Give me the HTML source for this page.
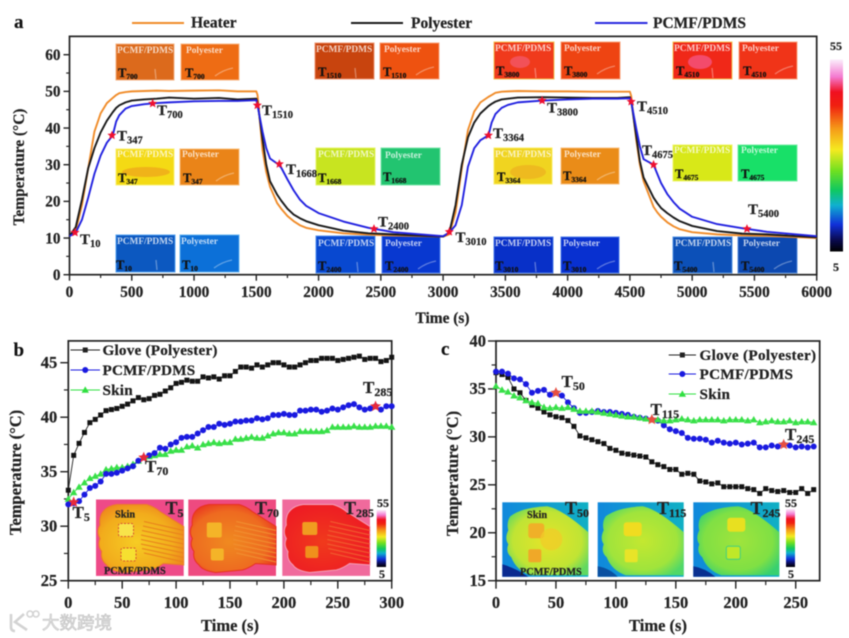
<!DOCTYPE html>
<html lang="en">
<head>
<meta charset="utf-8">
<title>Thermal response of PCMF/PDMS and polyester</title>
<style>
html,body{margin:0;padding:0;background:#fff;width:849px;height:638px;overflow:hidden}
svg{display:block;filter:blur(0.55px)}
text{font-family:"Liberation Serif","Noto Serif CJK SC",serif;font-weight:bold;fill:#222;stroke:#222;stroke-width:.22px}
.tick{font-size:15.3px}
.tickb{font-size:16.5px}
.title{font-size:15.4px}
.titleb{font-size:16.5px}
.leg{font-size:15.5px}
.legb{font-size:15.2px;letter-spacing:.2px}
.panel{font-size:19px;fill:#111}
.ann{font-size:15px;fill:#222}
.annb{font-size:17px;fill:#222}
.tl{font-size:9.4px;fill:#fff;fill-opacity:.75;stroke:none}
.ts{font-size:12.5px;fill:#111;stroke:#111}
.insT{font-size:18px;fill:#222}
.insL{font-size:10.3px;fill:#222}
.cb{font-size:12px;fill:#222}
</style>
</head>
<body>
<svg xmlns="http://www.w3.org/2000/svg" width="849" height="638" viewBox="0 0 849 638">
<defs>
<linearGradient id="cbar" x1="0" y1="0" x2="0" y2="1">
<stop offset="0" stop-color="#fbeefb"/><stop offset=".09" stop-color="#f47ad0"/><stop offset=".17" stop-color="#f01020"/><stop offset=".24" stop-color="#f02010"/><stop offset=".36" stop-color="#f59a18"/><stop offset=".47" stop-color="#f5ea20"/><stop offset=".58" stop-color="#70e020"/><stop offset=".68" stop-color="#10c860"/><stop offset=".76" stop-color="#10b0d0"/><stop offset=".86" stop-color="#1030d8"/><stop offset=".94" stop-color="#0a0a50"/><stop offset="1" stop-color="#000"/>
</linearGradient>
<radialGradient id="h5" cx=".45" cy=".55" r=".6"><stop offset="0" stop-color="#f6cc24"/><stop offset=".7" stop-color="#f2ac1c"/><stop offset="1" stop-color="#ee8a1c"/></radialGradient>
<radialGradient id="h70" cx=".45" cy=".55" r=".6"><stop offset="0" stop-color="#f08a20"/><stop offset=".75" stop-color="#ee6a20"/><stop offset="1" stop-color="#ea3c20"/></radialGradient>
<radialGradient id="h285" cx=".45" cy=".55" r=".6"><stop offset="0" stop-color="#f03a1c"/><stop offset="1" stop-color="#ee1a24"/></radialGradient>
<radialGradient id="c50" cx=".5" cy=".5" r=".6"><stop offset="0" stop-color="#e6e428"/><stop offset=".7" stop-color="#c0e434"/><stop offset="1" stop-color="#60d860"/></radialGradient>
<radialGradient id="c115" cx=".5" cy=".5" r=".6"><stop offset="0" stop-color="#c4e830"/><stop offset=".7" stop-color="#a0e43c"/><stop offset="1" stop-color="#50d868"/></radialGradient>
<radialGradient id="c245" cx=".5" cy=".5" r=".6"><stop offset="0" stop-color="#a0e43c"/><stop offset=".7" stop-color="#80e044"/><stop offset="1" stop-color="#38d070"/></radialGradient>
<linearGradient id="cbg" x1="0" y1="0" x2="1" y2="0"><stop offset="0" stop-color="#1088dc"/><stop offset="1" stop-color="#10b0c4"/></linearGradient>
<path id="hand" d="M7 12 Q12 6 20.7 5 L50.7 5 Q58 7 64 12 L87.7 27 V65.5 L67.3 64 Q60 69 54 70.5 L27.3 73 Q14 71 10.7 65.5 Q4 60 5.7 52 Q1 46 4 39 Q0 32 4 25.5 Q3 17 7 12Z"/>
<path id="handc" d="M8 14 Q20 5 45 4 Q60 7 86 30 V73 H28 Q14 68 9 55 Q3 50 6 42 Q2 36 6 28 Q4 20 8 14Z"/>
<path id="fingers" d="M48 22 L87.7 31 M47 26.500 L87.700 35.500 M46 31 L87.700 40 M45 35.500 L87.700 44.500 M45 40 L87.700 49 M45 44.500 L87.700 53.500 M46 49 L87.700 58 M48 53.500 L87.700 62.500" fill="none" stroke-width="1.1"/>
<path id="streak" d="M0 10 Q8 4 18 2" fill="none" stroke="#fff" stroke-opacity=".35" stroke-width="1.4"/>
<path id="tickmark" d="M0 0 L1 10" fill="none" stroke="#fff" stroke-opacity=".35" stroke-width="1.3"/>
</defs>

<rect x="0" y="0" width="849" height="638" fill="#fff"/>

<!-- Panel a thermal image thumbnails -->
<g>
<g><rect x="116" y="44" width="58" height="36" fill="#dc6a1c" stroke="#f4b080"/><use href="#tickmark" x="155" y="69"/><text class="tl" x="117" y="53">PCMF/PDMS</text><text class="ts" x="118" y="77">T<tspan dy="2" font-size="7.5">700</tspan></text></g>
<g><rect x="181" y="44" width="58" height="36" fill="#ee6c14" stroke="#f8b480"/><use href="#streak" x="215" y="66"/><text class="tl" x="186" y="53">Polyester</text><text class="ts" x="185" y="77">T<tspan dy="2" font-size="7.5">700</tspan></text></g>
<g><rect x="315" y="43" width="59" height="36" fill="#c8440e" stroke="#ec9470"/><use href="#tickmark" x="355" y="68"/><text class="tl" x="316" y="52">PCMF/PDMS</text><text class="ts" x="318" y="76">T<tspan dy="2" font-size="7.5">1510</tspan></text></g>
<g><rect x="380" y="43" width="59" height="36" fill="#ee5210" stroke="#f8a078"/><use href="#streak" x="416" y="65"/><text class="tl" x="384" y="52">Polyester</text><text class="ts" x="383" y="76">T<tspan dy="2" font-size="7.5">1510</tspan></text></g>
<g><rect x="494" y="42" width="60" height="37" fill="#f03a1c" stroke="#f4c050"/><ellipse cx="520" cy="62" rx="10" ry="6" fill="#f46080" opacity=".6"/><use href="#tickmark" x="535" y="68"/><text class="tl" x="495" y="51">PCMF/PDMS</text><text class="ts" x="496" y="75">T<tspan dy="2" font-size="7.500">3800</tspan></text></g>
<g><rect x="561" y="42" width="59" height="37" fill="#ee4412" stroke="#f8a078"/><use href="#streak" x="597" y="64"/><text class="tl" x="564" y="51">Polyester</text><text class="ts" x="564" y="75">T<tspan dy="2" font-size="7.5">3800</tspan></text></g>
<g><rect x="673" y="42" width="59" height="37" fill="#f02818" stroke="#f4c050"/><ellipse cx="700" cy="62" rx="12" ry="7" fill="#f45a90" opacity=".7"/><use href="#tickmark" x="712" y="68"/><text class="tl" x="674" y="51">PCMF/PDMS</text><text class="ts" x="676" y="75">T<tspan dy="2" font-size="7.5">4510</tspan></text></g>
<g><rect x="739" y="42" width="58" height="37" fill="#f03418" stroke="#f8a078"/><use href="#streak" x="775" y="64"/><text class="tl" x="742" y="51">Polyester</text><text class="ts" x="743" y="75">T<tspan dy="2" font-size="7.5">4510</tspan></text></g>

<g><rect x="116" y="149" width="58" height="36" fill="#f4da14" stroke="#f8f070"/><ellipse cx="146" cy="172" rx="24" ry="5" fill="#ec9a1c" opacity=".6"/><text class="tl" x="117" y="157">PCMF/PDMS</text><text class="ts" x="118" y="182">T<tspan dy="2" font-size="7.5">347</tspan></text></g>
<g><rect x="180" y="149" width="59" height="36" fill="#ea8418" stroke="#f8bc78"/><use href="#streak" x="216" y="171"/><text class="tl" x="182" y="157">Polyester</text><text class="ts" x="183" y="182">T<tspan dy="2" font-size="7.5">347</tspan></text></g>
<g><rect x="316" y="148" width="59" height="37" fill="#c8e420" stroke="#e4f468"/><text class="tl" x="318" y="157">PCMF/PDMS</text><text class="ts" x="318" y="182">T<tspan dy="2" font-size="7.5">1668</tspan></text></g>
<g><rect x="381" y="148" width="59" height="37" fill="#22c470" stroke="#78e4a8"/><text class="tl" x="385" y="158">Polyester</text><text class="ts" x="383" y="181">T<tspan dy="2" font-size="7.5">1668</tspan></text></g>
<g><rect x="494" y="148" width="58" height="36" fill="#f0d420" stroke="#f8ec60"/><ellipse cx="528" cy="172" rx="18" ry="7" fill="#eca820" opacity=".6"/><text class="tl" x="495" y="157">PCMF/PDMS</text><text class="ts" x="497" y="181">T<tspan dy="2" font-size="7.5">3364</tspan></text></g>
<g><rect x="561" y="148" width="58" height="36" fill="#ea8c18" stroke="#f8bc78"/><use href="#streak" x="597" y="170"/><text class="tl" x="564" y="157">Polyester</text><text class="ts" x="563" y="180">T<tspan dy="2" font-size="7.5">3364</tspan></text></g>
<g><rect x="673" y="145" width="59" height="36" fill="#d8e818" stroke="#ecf468"/><text class="tl" x="674" y="153">PCMF/PDMS</text><text class="ts" x="675" y="178">T<tspan dy="2" font-size="7.5">4675</tspan></text></g>
<g><rect x="738" y="145" width="59" height="36" fill="#18e068" stroke="#70ecA0"/><text class="tl" x="741" y="153">Polyester</text><text class="ts" x="741" y="178">T<tspan dy="2" font-size="7.5">4675</tspan></text></g>

<g><rect x="116" y="235" width="59" height="37" fill="#0c58c0" stroke="#50a0f0"/><use href="#tickmark" x="156" y="260"/><text class="tl" x="117" y="244">PCMF/PDMS</text><text class="ts" x="116" y="269">T<tspan dy="2" font-size="7.5">10</tspan></text></g>
<g><rect x="180" y="235" width="59" height="37" fill="#0c70d8" stroke="#60b0f0"/><use href="#streak" x="214" y="258"/><text class="tl" x="181" y="244">Polyester</text><text class="ts" x="182" y="269">T<tspan dy="2" font-size="7.5">10</tspan></text></g>
<g><rect x="316" y="236" width="59" height="37" fill="#0848d0" stroke="#5090f0"/><use href="#tickmark" x="357" y="262"/><text class="tl" x="318" y="246">PCMF/PDMS</text><text class="ts" x="318" y="270">T<tspan dy="2" font-size="7.5">2400</tspan></text></g>
<g><rect x="382" y="236" width="58" height="37" fill="#0838d0" stroke="#5080f0"/><use href="#streak" x="418" y="259"/><text class="tl" x="385" y="246">Polyester</text><text class="ts" x="385" y="270">T<tspan dy="2" font-size="7.5">2400</tspan></text></g>
<g><rect x="494" y="237" width="59" height="36" fill="#0830c8" stroke="#4878e8"/><use href="#tickmark" x="535" y="262"/><text class="tl" x="495" y="246">PCMF/PDMS</text><text class="ts" x="495" y="270">T<tspan dy="2" font-size="7.5">3010</tspan></text></g>
<g><rect x="561" y="237" width="58" height="36" fill="#0830d0" stroke="#4878e8"/><use href="#streak" x="597" y="259"/><text class="tl" x="563" y="246">Polyester</text><text class="ts" x="563" y="270">T<tspan dy="2" font-size="7.5">3010</tspan></text></g>
<g><rect x="673" y="237" width="59" height="36" fill="#0c50b8" stroke="#5090e0"/><use href="#tickmark" x="713" y="262"/><text class="tl" x="675" y="246">PCMF/PDMS</text><text class="ts" x="674" y="270">T<tspan dy="2" font-size="7.5">5400</tspan></text></g>
<g><rect x="738" y="237" width="59" height="36" fill="#0c48b0" stroke="#5088d8"/><use href="#streak" x="774" y="259"/><text class="tl" x="743" y="246">Polyester</text><text class="ts" x="741" y="270">T<tspan dy="2" font-size="7.5">5400</tspan></text></g>
</g>

<!-- Panel b insets -->
<g transform="translate(96,499.5)"><rect width="87.7" height="76.4" fill="#ee4a88"/><use href="#hand" fill="url(#h5)" stroke="#ec7a2a"/><use href="#fingers" stroke="#e8801c"/><rect x="22.5" y="24" width="15" height="13" rx="2" fill="#f8e44a" stroke="#d85030" stroke-dasharray="2 1.500"/><rect x="25" y="48.500" width="15" height="13" rx="2" fill="#f6e030" stroke="#d85030" stroke-dasharray="2 1.5"/></g>
<g transform="translate(188.3,499.5)"><rect width="87.7" height="76.4" fill="#ee4a80"/><use href="#hand" fill="url(#h70)" stroke="#e83020"/><use href="#fingers" stroke="#f09030"/><rect x="18.5" y="23" width="15" height="15" rx="2" fill="#f4b428"/><rect x="22.5" y="49" width="13" height="12" rx="2" fill="#f4b428"/></g>
<g transform="translate(282.3,499.5)"><rect width="87.7" height="76.4" fill="#f06a9c"/><use href="#hand" fill="url(#h285)" stroke="#f4a0b8"/><use href="#fingers" stroke="#f06030"/><rect x="20" y="22.5" width="15" height="13" rx="2" fill="#f09c20"/><rect x="23" y="46.500" width="13" height="12" rx="2" fill="#f0901c"/></g>
<rect x="376.7" y="510" width="9.3" height="57" fill="url(#cbar)"/>
<text class="cb" x="377" y="507">55</text>
<text class="cb" x="379" y="578">5</text>
<text class="insT" x="165.5" y="514">T<tspan dy="3" font-size="12">5</tspan></text>
<text class="insT" x="255" y="514">T<tspan dy="3" font-size="12">70</tspan></text>
<text class="insT" x="344" y="514">T<tspan dy="3" font-size="12">285</tspan></text>
<text class="insL" x="115" y="517.5">Skin</text>
<text class="insL" x="104" y="574">PCMF/PDMS</text>

<!-- Panel c insets -->
<g transform="translate(502.3,502.3)"><rect width="86" height="74.5" fill="url(#cbg)"/><use href="#handc" fill="url(#c50)"/><path d="M0 62 Q14 66 26 74.5 H0Z" fill="#0a2a90"/><rect x="26" y="21" width="16" height="15" rx="3" fill="#f0b028"/><rect x="26" y="47" width="13" height="13" rx="2" fill="#f0a828"/><ellipse cx="49" cy="37" rx="11" ry="11" fill="#f0cc28" opacity=".75"/></g>
<g transform="translate(597.7,502.3)"><rect width="86" height="74.5" fill="url(#cbg)"/><use href="#handc" fill="url(#c115)"/><path d="M0 64 Q12 66 20 74.5 H0Z" fill="#0a50a0"/><rect x="26" y="20" width="18" height="14" rx="3" fill="#f0dc20"/><rect x="27" y="47" width="13" height="13" rx="2" fill="#e8e428"/></g>
<g transform="translate(693.3,502.3)"><rect width="86" height="74.5" fill="url(#cbg)"/><use href="#handc" fill="url(#c245)"/><path d="M0 64 Q12 66 22 74.5 H0Z" fill="#0a3090"/><rect x="34" y="15.500" width="18" height="14" rx="3" fill="#e8e020"/><rect x="33" y="44" width="14" height="13" rx="2" fill="#c0e828" stroke="#40d080"/></g>
<rect x="786" y="509" width="9" height="58" fill="url(#cbar)"/>
<text class="cb" x="785" y="507">55</text>
<text class="cb" x="788" y="578">5</text>
<text class="insT" x="565" y="514">T<tspan dy="3" font-size="12">50</tspan></text>
<text class="insT" x="657" y="514">T<tspan dy="3" font-size="12">115</tspan></text>
<text class="insT" x="750.5" y="514">T<tspan dy="3" font-size="12">245</tspan></text>
<text class="insL" x="527" y="518">Skin</text>
<text class="insL" x="520" y="575">PCMF/PDMS</text>

<!-- Chart layers filled by script -->
<g id="plot-a"></g>
<g id="plot-b"></g>
<g id="plot-c"></g>

<!-- Panel a annotation text -->
<g>
<text class="ann" x="80" y="244">T<tspan dy="3" font-size="10.5">10</tspan></text>
<text class="ann" x="117" y="140.5">T<tspan dy="3" font-size="10.5">347</tspan></text>
<text class="ann" x="157" y="115">T<tspan dy="3" font-size="10.5">700</tspan></text>
<text class="ann" x="262" y="115">T<tspan dy="3" font-size="10.5">1510</tspan></text>
<text class="ann" x="286" y="174">T<tspan dy="3" font-size="10.5">1668</tspan></text>
<text class="ann" x="378" y="226.5">T<tspan dy="3" font-size="10.5">2400</tspan></text>
<text class="ann" x="455.5" y="242">T<tspan dy="3" font-size="10.5">3010</tspan></text>
<text class="ann" x="493" y="138">T<tspan dy="3" font-size="10.5">3364</tspan></text>
<text class="ann" x="547" y="112.5">T<tspan dy="3" font-size="10.5">3800</tspan></text>
<text class="ann" x="637" y="111">T<tspan dy="3" font-size="10.5">4510</tspan></text>
<text class="ann" x="642" y="155">T<tspan dy="3" font-size="10.5">4675</tspan></text>
<text class="ann" x="748" y="214">T<tspan dy="3" font-size="10.5">5400</tspan></text>
</g>

<!-- Panel b/c annotation text -->
<text class="annb" x="72.5" y="518">T<tspan dy="3" font-size="12">5</tspan></text>
<text class="annb" x="145" y="472">T<tspan dy="3" font-size="12">70</tspan></text>
<text class="annb" x="363" y="393">T<tspan dy="3" font-size="12">285</tspan></text>
<text class="annb" x="561.5" y="387">T<tspan dy="3" font-size="12">50</tspan></text>
<text class="annb" x="650.5" y="415">T<tspan dy="3" font-size="12">115</tspan></text>
<text class="annb" x="785" y="440">T<tspan dy="3" font-size="12">245</tspan></text>

<!-- Panel a legend -->
<g>
<line x1="132" y1="23" x2="184" y2="23" stroke="#f08c2a" stroke-width="1.9"/>
<text class="leg" x="191" y="27.5">Heater</text>
<line x1="351" y1="23" x2="403" y2="23" stroke="#1a1a1a" stroke-width="1.9"/>
<text class="leg" x="411" y="28">Polyester</text>
<line x1="595" y1="23" x2="647.5" y2="23" stroke="#2a2ae0" stroke-width="1.9"/>
<text class="leg" x="653" y="28">PCMF/PDMS</text>
</g>

<!-- Colorbar a -->
<rect x="830" y="59.5" width="13" height="192" fill="url(#cbar)"/>
<text class="cb" x="830" y="50">55</text>
<text class="cb" x="833" y="271">5</text>

<!-- Panel letters -->
<text class="panel" x="14" y="28">a</text>
<text class="panel" x="13.5" y="356">b</text>
<text class="panel" x="441" y="355">c</text>

<!-- Axis titles -->
<text class="title" x="442.5" y="323" text-anchor="middle">Time (s)</text>
<text class="title" text-anchor="middle" transform="translate(24,167) rotate(-90)">Temperature (°C)</text>
<text class="titleb" x="230" y="631" text-anchor="middle">Time (s)</text>
<text class="titleb" text-anchor="middle" transform="translate(21,472.5) rotate(-90)">Temperature (°C)</text>
<text class="titleb" x="658" y="631" text-anchor="middle">Time (s)</text>
<text class="titleb" text-anchor="middle" transform="translate(458,473.5) rotate(-90)">Temperature (°C)</text>

<!-- Panel b legend -->
<g>
<text class="legb" x="102.5" y="355">Glove (Polyester)</text>
<text class="legb" x="102.5" y="375">PCMF/PDMS</text>
<text class="legb" x="102.5" y="395">Skin</text>
</g>
<!-- Panel c legend -->
<g>
<text class="legb" x="699.5" y="360" style="letter-spacing:.3px">Glove (Polyester)</text>
<text class="legb" x="699.5" y="379" style="letter-spacing:.3px">PCMF/PDMS</text>
<text class="legb" x="699.5" y="399" style="letter-spacing:.3px">Skin</text>
</g>

<!-- Watermark -->
<g opacity=".9">
<path d="M11 614 V627 Q11 631 15 631 M24 614 L15 622 L27 630" fill="none" stroke="#cfcfcf" stroke-width="2.6"/>
<circle cx="30" cy="614" r="3" fill="none" stroke="#cfcfcf" stroke-width="1.6"/>
<circle cx="36" cy="614" r="3" fill="none" stroke="#cfcfcf" stroke-width="1.6"/>
<text x="42" y="629" font-size="17.5" style="fill:#e4e4e4;stroke:#b8b8b8;stroke-width:.6;font-family:'Noto Sans CJK SC',sans-serif;font-weight:normal">大数跨境</text>
</g>

<script>
// Panel a data
var timeA = [0,50,100,150,200,250,300,347,375,400,450,500,600,700,800,1000,1200,1350,1500,1510,1550,1580,1610,1668,1700,1750,1800,1850,1900,2000,2200,2400,2600,3000,3050,3100,3150,3200,3250,3300,3364,3390,3420,3470,3520,3600,3800,4000,4200,4400,4500,4510,4550,4580,4610,4690,4720,4750,4800,4850,4900,5000,5200,5400,5600,6000];
var heaterA = [10.5,12,19,29,39,44,46.8,48.2,49,49.5,49.8,50,50.1,50.2,50.1,50.2,50.3,50,50,49,34,28,24,19.5,18,16,14.6,13.5,12.8,12.1,11.3,10.9,10.7,10.4,11,17,29,39.5,44.5,47,48.5,49,49.6,49.9,50,50.1,50,50,49.9,49.9,49.9,48.8,37,30,25.5,18.5,17,15.8,14.3,13.2,12.4,11.6,11,10.7,10.6,10];
var polyesterA = [10.5,13,20.5,29,34.5,38.8,42,44.3,45.5,46.2,47,47.5,47.8,48,48.3,48,48.2,47.8,48,47,37,30,25.5,21.8,20.2,18,16.4,15.4,14.6,13.5,12,11.3,11,10.4,11.5,19,30,37.5,41.5,44,46,46.6,47.2,47.8,48,48.3,48.4,48.3,48.2,48.2,48.4,47.5,38,31,26.5,21,19.5,18.2,16.8,15.6,14.6,13.3,11.9,11.2,11,10.2];
var pcmfA = [10.5,11.5,15,21,27.5,32.5,36,38,41.8,43.5,45.3,46,46.5,46.8,47,47.3,47.4,47.4,47.6,46.2,39,34.5,31.7,30.3,29.2,26,23,20.5,18.8,16.8,14.5,12.8,11.6,10.5,11.5,13.5,19,29.5,34.5,36.7,38,41.5,43.8,45.5,46.3,47,47.5,47.8,48,48,48.1,47.2,40,35,31.5,30,27.5,25,22,19.8,18,15.8,13.8,12.7,11.7,10.5];
var starTimeA = [44,341,668,1508,1685,2445,3050,3364,3795,4510,4690,5440];
var starTempA = [11.5,38,46.7,46.2,30.2,12.5,11.7,38,47.5,47.2,30,12.5];
var xTicksA = [0,500,1000,1500,2000,2500,3000,3500,4000,4500,5000,5500,6000];
var yTicksA = [0,10,20,30,40,50,60];

// Panel b data (sampled every 5 s)
var timeB = [0,5,10,15,20,25,30,35,40,45,50,55,60,65,70,75,80,85,90,95,100,105,110,115,120,125,130,135,140,145,150,155,160,165,170,175,180,185,190,195,200,205,210,215,220,225,230,235,240,245,250,255,260,265,270,275,280,285,290,295,300];
var gloveB = [33.3,36.5,37.6,38.6,39.5,39.8,40.2,40.6,40.7,40.8,41,41.2,41.5,41.8,41.6,41.7,42,42.1,42.4,42.7,43.1,43.2,43.4,43.3,43.3,43.7,43.6,43.7,43.5,43.8,43.8,44.2,44.6,44.6,44.5,44.8,44.6,44.8,45,45,44.8,44.6,44.6,44.8,45,45.2,45.2,45.4,45.4,45.4,45.2,45.3,45.4,45.5,45.6,45.3,45.4,45.4,45.1,45.2,45.5];
var pcmfB = [32,32.1,32.3,32.9,33.5,33.7,34.1,34.8,34.8,34.9,35.1,35.3,35.5,36,36.3,36.5,36.7,37.2,37.1,37.5,37.7,38.1,38.2,38.2,38.5,38.8,39.1,39.1,39.4,39.3,39.4,39.6,39.6,39.7,39.7,39.9,39.8,39.9,40.2,40.2,40.3,40.2,40.2,40.6,40.6,40.7,40.7,40.5,40.6,40.8,40.7,40.9,41.1,41.2,40.9,40.7,40.8,41,40.7,41,41];
var skinB = [32.5,33.1,33.6,34,34.4,34.6,34.8,35.2,35.3,35.4,35.4,35.5,35.7,36,36.3,36.4,36.5,36.6,36.6,36.9,37,37,37.3,37.4,37.2,37.5,37.6,37.7,37.6,37.7,37.7,38,38,38.1,38.2,38.1,38.1,38.3,38.5,38.6,38.6,38.5,38.5,38.7,38.7,38.7,38.7,38.7,38.8,39.1,39.1,39.1,39.1,39.2,39.1,39.1,39.1,39.2,39.2,39.2,39.1];
var starTimeB = [5,70,285];
var starTempB = [32.2,36.3,41];
var xTicksB = [0,50,100,150,200,250,300];
var yTicksB = [25,30,35,40,45];

// Panel c data (sampled every 5 s)
var timeC = [0,5,10,15,20,25,30,35,40,45,50,55,60,65,70,75,80,85,90,95,100,105,110,115,120,125,130,135,140,145,150,155,160,165,170,175,180,185,190,195,200,205,210,215,220,225,230,235,240,245,250,255,260,265];
var gloveC = [36.7,36.5,36.2,35,34.6,33.8,33.3,33,32.6,32.3,32.1,32,31.7,31.1,30.1,29.9,29.7,29.5,29.3,28.8,28.6,28.3,28.2,28.1,28,27.9,27.4,27.1,26.9,26.6,26.6,26.1,26.2,26.1,25.4,25.3,25.1,25.2,24.8,24.8,24.8,24.8,24.6,24.5,24.1,24.6,24.4,24.3,24.4,24.2,24.2,24.6,24.1,24.5];
var pcmfC = [36.8,36.8,36.6,36.1,36,35.5,34.6,34.8,34.9,34.4,34.6,34.3,33.6,33,32.5,32.5,32.6,32.7,32.6,32.6,32.5,32.4,32.3,32.1,32,31.9,31.8,31.7,31.2,30.8,30.6,30.4,29.9,29.8,29.8,29.7,29.4,29.6,29.4,29.3,29.4,29.2,29.3,29.4,28.9,28.9,29.1,29,29.2,29.1,28.9,29,28.9,29];
var skinC = [35.3,34.9,34.7,34.3,34.1,33.8,33.6,33.5,33.1,33,33.1,33,33.1,32.9,32.7,32.7,32.7,32.6,32.5,32.4,32.3,32.2,32.1,32.1,32,31.9,31.8,31.8,31.7,31.7,31.8,31.9,31.8,31.7,31.8,31.8,31.8,31.8,31.7,31.8,31.8,31.8,31.7,31.8,31.5,31.6,31.7,31.6,31.6,31.7,31.5,31.6,31.6,31.5];
var starTimeC = [50,130,240];
var starTempC = [34.6,31.8,29.2];
var xTicksC = [0,50,100,150,200,250];
var yTicksC = [15,20,25,30,35,40];

var NS = 'http://www.w3.org/2000/svg';
function mk(tag, attrs, parent){
  var el = document.createElementNS(NS, tag);
  for (var k in attrs) el.setAttribute(k, attrs[k]);
  
  parent.appendChild(el);
  return el;
}

// Axis functions
function xA(v){ return 69.5 + v * (816.7 - 69.5) / 6000; }
function yA(v){ return 274.7 - v * (274.7 - 54.7) / 60; }
function xB(v){ return 68.3 + v * (391.7 - 68.3) / 300; }
function yB(v){ return 580.7 - (v - 25) * (580.7 - 362.7) / 20; }
function xC(v){ return 496 + v * (795.7 - 496) / 250; }
function yC(v){ return 580.7 - (v - 15) * (580.7 - 341) / 25; }

function drawAxes(g, xf, yf, xTicks, yTicks, xEnd, yEnd, cls, xLabelY, xLabelGap, majorLen){
  var left = xf(0), right = xf(xEnd), bottom = yf(yTicks[0]), top = yf(yEnd);
  var frame = mk('rect', {x:left, y:top, width:right-left, height:bottom-top, fill:'none', stroke:'#222', 'stroke-width':1.7}, g);
  
  xTicks.forEach(function(t, i){
    var tk = mk('line', {x1:xf(t), x2:xf(t), y1:bottom, y2:bottom+majorLen, stroke:'#222', 'stroke-width':1.4}, g);
    
    var lb = mk('text', {x:xf(t), y:xLabelY, 'text-anchor':'middle', 'class':cls}, g);
    
    lb.textContent = t;
    if (i < xTicks.length - 1){
      var m = (t + xTicks[i+1]) / 2;
      var mn = mk('line', {x1:xf(m), x2:xf(m), y1:bottom, y2:bottom+majorLen*0.55, stroke:'#222', 'stroke-width':1.2}, g);
      
    }
  });
  yTicks.forEach(function(t, i){
    var tk = mk('line', {x1:left-majorLen, x2:left, y1:yf(t), y2:yf(t), stroke:'#222', 'stroke-width':1.4}, g);
    
    var lb = mk('text', {x:left-xLabelGap, y:yf(t)+5.3, 'text-anchor':'end', 'class':cls}, g);
    
    lb.textContent = t;
    var step = i < yTicks.length - 1 ? yTicks[i+1] : null;
    if (step !== null && yf((t + step) / 2) > top){
      var mn = mk('line', {x1:left-majorLen*0.55, x2:left, y1:yf((t+step)/2), y2:yf((t+step)/2), stroke:'#222', 'stroke-width':1.2}, g);
      
    }
  });
}

function drawLine(g, xs, ys, xf, yf, color, width, name){
  var pts = xs.map(function(t, i){ return xf(t).toFixed(2) + ',' + yf(ys[i]).toFixed(2); }).join(' ');
  var pl = mk('polyline', {points:pts, fill:'none', stroke:color, 'stroke-width':width, 'stroke-linejoin':'round'}, g);
  
}

function marker(g, kind, cx, cy, color, name){
  var el;
  if (kind === 'square') el = mk('rect', {x:cx-2.5, y:cy-2.5, width:5, height:5, fill:color}, g);
  if (kind === 'circle') el = mk('circle', {cx:cx, cy:cy, r:3, fill:color}, g);
  if (kind === 'triangle') el = mk('polygon', {points:cx+','+(cy-3.6)+' '+(cx+3.7)+','+(cy+2.8)+' '+(cx-3.7)+','+(cy+2.8), fill:color}, g);
  
}

function drawMarkers(g, xs, ys, xf, yf, kind, color, name){
  xs.forEach(function(t, i){ marker(g, kind, xf(t), yf(ys[i]), color, name); });
}

function drawStars(g, xs, ys, xf, yf, r, color){
  xs.forEach(function(t, i){
    var cx = xf(t), cy = yf(ys[i]), p = [];
    for (var k = 0; k < 10; k++){
      var rad = k % 2 ? r * 0.45 : r;
      var ang = -Math.PI / 2 + k * Math.PI / 5;
      p.push((cx + rad * Math.cos(ang)).toFixed(2) + ',' + (cy + rad * Math.sin(ang)).toFixed(2));
    }
    var st = mk('polygon', {points:p.join(' '), fill:color}, g);
    
  });
}

function legendRow(g, x1, x2, y, color, kind, name){
  var ln = mk('line', {x1:x1, x2:x2, y1:y, y2:y, stroke:color, 'stroke-width':0.9}, g);
  
  marker(g, kind, (x1 + x2) / 2, y, color, name + '-marker');
}

// Panel a
var ga = document.getElementById('plot-a');
drawAxes(ga, xA, yA, xTicksA, yTicksA, 6000, 65, 'tick', 297, 9, 6);
drawLine(ga, timeA, heaterA, xA, yA, '#f08c2a', 1.9, 'heater-curve');
drawLine(ga, timeA, polyesterA, xA, yA, '#1a1a1a', 1.9, 'polyester-curve');
drawLine(ga, timeA, pcmfA, xA, yA, '#2222e0', 1.9, 'pcmf-curve');
drawStars(ga, starTimeA, starTempA, xA, yA, 4.8, '#ee1030');

// Panel b
var gb = document.getElementById('plot-b');
drawAxes(gb, xB, yB, xTicksB, yTicksB, 300, 47, 'tickb', 608, 11, 8);
drawLine(gb, timeB, gloveB, xB, yB, '#222', 0.9, 'glove-curve-b');
drawMarkers(gb, timeB, gloveB, xB, yB, 'square', '#141414', 'glove-point-b');
drawLine(gb, timeB, skinB, xB, yB, '#30e040', 0.9, 'skin-curve-b');
drawMarkers(gb, timeB, skinB, xB, yB, 'triangle', '#38e048', 'skin-point-b');
drawLine(gb, timeB, pcmfB, xB, yB, '#1a1ae0', 0.9, 'pcmf-curve-b');
drawMarkers(gb, timeB, pcmfB, xB, yB, 'circle', '#1a1ae0', 'pcmf-point-b');
drawStars(gb, starTimeB, starTempB, xB, yB, 5.8, '#e82a3a');
legendRow(gb, 70.5, 100, 350, '#222', 'square', 'legend-b-glove');
legendRow(gb, 70.5, 100, 370, '#1a1ae0', 'circle', 'legend-b-pcmf');
legendRow(gb, 70.5, 100, 390, '#30e040', 'triangle', 'legend-b-skin');

// Panel c
var gc = document.getElementById('plot-c');
drawAxes(gc, xC, yC, xTicksC, yTicksC, 270, 40, 'tickb', 608, 10, 8);
drawLine(gc, timeC, gloveC, xC, yC, '#222', 0.9, 'glove-curve-c');
drawMarkers(gc, timeC, gloveC, xC, yC, 'square', '#141414', 'glove-point-c');
drawLine(gc, timeC, pcmfC, xC, yC, '#1a1ae0', 0.9, 'pcmf-curve-c');
drawMarkers(gc, timeC, pcmfC, xC, yC, 'circle', '#1a1ae0', 'pcmf-point-c');
drawLine(gc, timeC, skinC, xC, yC, '#30e040', 0.9, 'skin-curve-c');
drawMarkers(gc, timeC, skinC, xC, yC, 'triangle', '#38e048', 'skin-point-c');
drawStars(gc, starTimeC, starTempC, xC, yC, 5.8, '#e85040');
legendRow(gc, 668.7, 696, 355, '#222', 'square', 'legend-c-glove');
legendRow(gc, 668.7, 696, 374, '#1a1ae0', 'circle', 'legend-c-pcmf');
legendRow(gc, 668.7, 696, 394, '#30e040', 'triangle', 'legend-c-skin');
</script>
</svg>
</body>
</html>
